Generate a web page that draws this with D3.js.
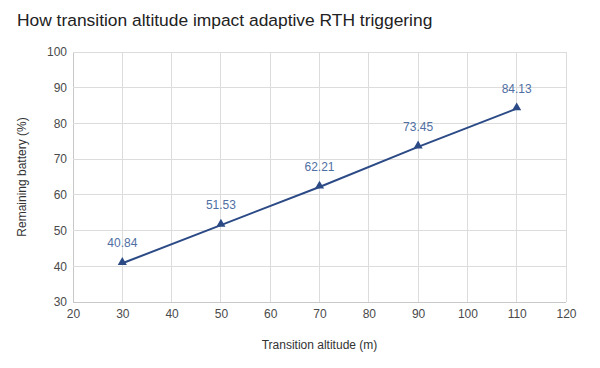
<!DOCTYPE html>
<html><head><meta charset="utf-8">
<script src="https://cdn.jsdelivr.net/npm/d3@7"></script>
<style>body{margin:0;background:#fff;}svg{display:block;font-family:"Liberation Sans",Arial,sans-serif;}</style>
</head><body><svg id="c" width="600" height="368"></svg>
<script>
const altitudes = [30, 50, 70, 90, 110];
const battery = [40.84, 51.53, 62.21, 73.45, 84.13];
const xTicks = [20, 30, 40, 50, 60, 70, 80, 90, 100, 110, 120];
const yTicks = [30, 40, 50, 60, 70, 80, 90, 100];
const title = "How transition altitude impact adaptive RTH triggering";
const xTitle = "Transition altitude (m)";
const yTitle = "Remaining battery (%)";

const svg = d3.select("#c");
const m = {l: 73, r: 34, t: 52, b: 66};
const W = 600, H = 368;
const x = d3.scaleLinear().domain([20, 120]).range([m.l, W - m.r]);
const y = d3.scaleLinear().domain([30, 100]).range([H - m.b, m.t]);

svg.append("text").attr("x", 17).attr("y", 26).attr("font-size", 17.4).attr("fill", "#222").text(title);

const g = svg.append("g");
g.selectAll(".vg").data(xTicks).join("line")
  .attr("x1", d => x(d)).attr("x2", d => x(d)).attr("y1", m.t).attr("y2", H - m.b)
  .attr("stroke", d => d === 20 ? "#c8c8c8" : "#dcdcdc").attr("stroke-width", 1).attr("shape-rendering", "crispEdges");
g.selectAll(".hg").data(yTicks).join("line")
  .attr("y1", d => y(d)).attr("y2", d => y(d)).attr("x1", m.l).attr("x2", W - m.r)
  .attr("stroke", d => d === 30 ? "#c8c8c8" : "#dcdcdc").attr("stroke-width", 1).attr("shape-rendering", "crispEdges");

const xAxis = d3.axisBottom(x).tickValues(xTicks).tickSize(0).tickPadding(7);
svg.append("g").attr("transform", `translate(0,${H - m.b})`).call(xAxis)
  .call(s => s.select(".domain").remove())
  .call(s => s.selectAll("text").attr("font-size", 12).attr("fill", "#4a4a4a").attr("font-family", "Liberation Sans, Arial, sans-serif"));
const yAxis = d3.axisLeft(y).tickValues(yTicks).tickSize(0).tickPadding(6);
svg.append("g").attr("transform", `translate(${m.l},0)`).call(yAxis)
  .call(s => s.select(".domain").remove())
  .call(s => s.selectAll("text").attr("font-size", 12).attr("fill", "#4a4a4a").attr("font-family", "Liberation Sans, Arial, sans-serif"));

svg.append("text").attr("x", (m.l + W - m.r) / 2).attr("y", 349).attr("text-anchor", "middle")
  .attr("font-size", 12).attr("fill", "#333").text(xTitle);
svg.append("text").attr("transform", `translate(26,${(m.t + H - m.b) / 2}) rotate(-90)`).attr("text-anchor", "middle")
  .attr("font-size", 12).attr("fill", "#333").text(yTitle);

const pts = altitudes.map((a, i) => ({a, v: battery[i]}));
svg.append("path").datum(pts).attr("fill", "none").attr("stroke", "#2b4a86").attr("stroke-width", 2)
  .attr("d", d3.line().x(d => x(d.a)).y(d => y(d.v)));
svg.selectAll(".mk").data(pts).join("path")
  .attr("d", d3.symbol(d3.symbolTriangle, 36))
  .attr("transform", d => `translate(${x(d.a)},${y(d.v) - 1})`).attr("fill", "#2b4a86");
svg.selectAll(".lb").data(pts).join("text")
  .attr("x", d => x(d.a)).attr("y", d => y(d.v) - 16).attr("text-anchor", "middle")
  .attr("font-size", 12).attr("fill", "#4f6fa3").text(d => d.v.toFixed(2));
</script></body></html>
